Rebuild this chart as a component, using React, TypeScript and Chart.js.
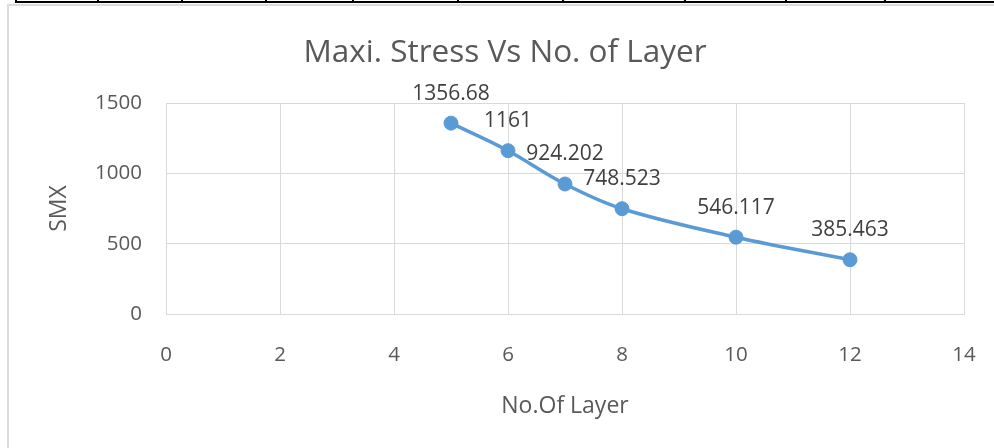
import React, { useEffect, useRef } from "react";
import { Chart, registerables } from "chart.js";

Chart.register(...registerables);

// ---- data ----
const layers = [5, 6, 7, 8, 10, 12];
const maxStress = [1356.68, 1161, 924.202, 748.523, 546.117, 385.463];
const pointLabels = ["1356.68", "1161", "924.202", "748.523", "546.117", "385.463"];
const xMin = 0;
const xMax = 14;
const xStep = 2;
const yMin = 0;
const yMax = 1500;
const yStep = 500;
const chartTitle = "Maxi. Stress Vs No. of Layer";
const xAxisTitle = "No.Of Layer";
const yAxisTitle = "SMX";

// decorative table strip above the chart (layout only)
const tableDividerX = [16, 98, 182, 266, 353, 458, 563, 685, 786, 885];

const FONT = "'Open Sans', 'Noto Sans', sans-serif";
const TEXT = "#595959";
const GRID = "#d9d9d9";
const LINE = "#5b9bd5";

const titlePlugin = {
  id: "excelTitle",
  afterDraw(chart: any) {
    const ctx = chart.ctx;
    ctx.save();
    ctx.font = `31.5px ${FONT}`;
    ctx.fillStyle = TEXT;
    ctx.textAlign = "center";
    ctx.textBaseline = "alphabetic";
    ctx.fillText(chartTitle, 505, 62);
    ctx.restore();
  },
};

const labelPlugin = {
  id: "pointValueLabels",
  afterDatasetsDraw(chart: any) {
    const ctx = chart.ctx;
    const meta = chart.getDatasetMeta(0);
    ctx.save();
    ctx.font = `21px ${FONT}`;
    ctx.fillStyle = "#404040";
    ctx.textAlign = "center";
    ctx.textBaseline = "alphabetic";
    meta.data.forEach((pt: any, i: number) => {
      ctx.fillText(pointLabels[i], pt.x, pt.y - 23.5);
    });
    ctx.restore();
  },
};

export default function App() {
  const ref = useRef<HTMLCanvasElement | null>(null);

  useEffect(() => {
    if (!ref.current) return;
    const chart = new Chart(ref.current, {
      type: "line",
      data: {
        datasets: [
          {
            label: "SMX",
            data: layers.map((x, i) => ({ x, y: maxStress[i] })),
            borderColor: LINE,
            backgroundColor: LINE,
            borderWidth: 3.5,
            pointRadius: 7,
            pointBorderWidth: 1,
            pointBackgroundColor: LINE,
            pointBorderColor: LINE,
            tension: 0.35,
            fill: false,
          },
        ],
      },
      options: {
        animation: false,
        responsive: false,
        devicePixelRatio: 1,
        layout: { padding: { top: 103, right: 30, bottom: 0, left: 0 } },
        plugins: {
          legend: { display: false },
          title: { display: false },
          tooltip: { enabled: false },
        },
        scales: {
          x: {
            type: "linear",
            min: xMin,
            max: xMax,
            ticks: {
              stepSize: xStep,
              color: TEXT,
              font: { family: FONT, size: 20.5 },
              padding: 29,
              callback: (v: any) => String(v),
            },
            grid: { color: GRID, lineWidth: 1, drawTicks: false },
            border: { color: GRID, width: 1 },
            title: {
              display: true,
              text: xAxisTitle,
              color: TEXT,
              font: { family: FONT, size: 23 },
              padding: { top: 0, bottom: 28 },
            },
            afterFit: (scale: any) => {
              scale.height = 134;
              scale.paddingLeft = 0;
              scale.paddingRight = 0;
            },
          },
          y: {
            min: yMin,
            max: yMax,
            ticks: {
              stepSize: yStep,
              color: TEXT,
              font: { family: FONT, size: 20.5 },
              padding: 24,
              callback: (v: any) => String(v),
            },
            grid: { color: GRID, lineWidth: 1, drawTicks: false },
            border: { color: GRID, width: 1 },
            title: {
              display: true,
              text: yAxisTitle,
              color: TEXT,
              font: { family: FONT, size: 23 },
              padding: { top: 46, bottom: 0 },
            },
            afterFit: (scale: any) => {
              scale.width = 166;
              scale.paddingTop = 0;
              scale.paddingBottom = 0;
            },
          },
        },
      },
      plugins: [titlePlugin, labelPlugin],
    });
    return () => chart.destroy();
  }, []);

  return (
    <div
      style={{
        position: "fixed",
        left: 0,
        top: 0,
        width: 994,
        height: 448,
        background: "#fff",
        overflow: "hidden",
      }}
    >
      <canvas ref={ref} width={994} height={448} style={{ position: "absolute", left: 0, top: 0 }} />
      {/* chart frame */}
      <div style={{ position: "absolute", left: 7, top: 4, width: 2, height: 444, background: "#dcdcdc" }} />
      <div style={{ position: "absolute", left: 7, top: 4, width: 987, height: 2, background: "#dcdcdc" }} />
      {/* table strip */}
      <div style={{ position: "absolute", left: 15, top: 1, width: 979, height: 2, background: "#000" }} />
      {tableDividerX.map((x) => (
        <div key={x} style={{ position: "absolute", left: x - 1, top: 0, width: 2, height: 3, background: "#000" }} />
      ))}
    </div>
  );
}
